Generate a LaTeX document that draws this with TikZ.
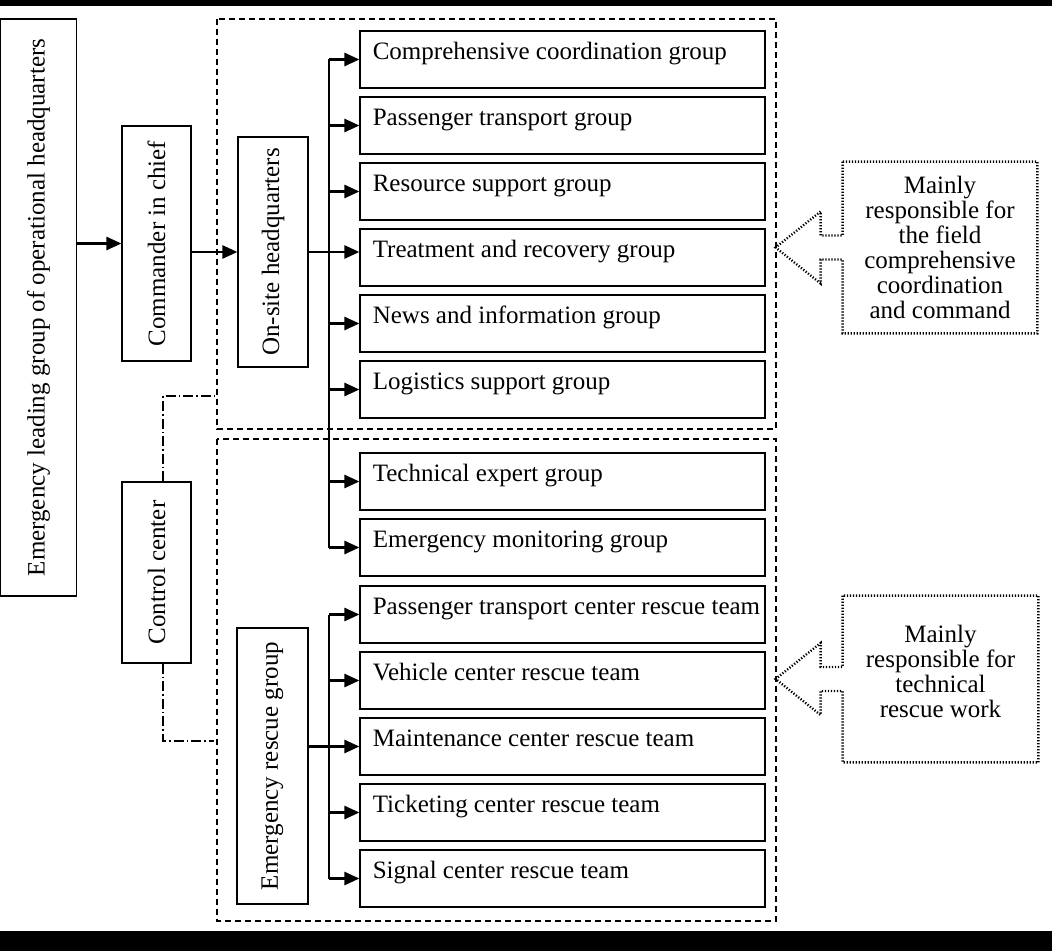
\documentclass[tikz,border=0pt]{standalone}
\usepackage{fontspec}
\setmainfont{Liberation Serif}
\usetikzlibrary{arrows.meta}
\tikzset{>={Triangle[length=7.5pt,width=6.5pt]}}
\tikzset{
	every node/.style={font=\fontsize{12.5}{12.5}\selectfont},
	grp/.style={draw,line width=0.6pt,minimum width=202.5pt,minimum height=28.5pt,inner sep=0pt},
	vbox/.style={draw,line width=0.6pt,rotate=90,inner sep=0pt},
	arr/.style={line width=1.3pt,->},
	trunk/.style={line width=0.6pt},
	frame/.style={line width=0.7pt,dash pattern=on 3pt off 2pt},
	dashdot/.style={line width=0.6pt,dash pattern=on 5pt off 1.5pt on 0.8pt off 1.5pt},
	note/.style={align=center,inner sep=0pt},
	callout/.style={line width=1.2pt,dash pattern=on 0.6pt off 0.9pt}
}

\begin{document}
\begin{tikzpicture}[x=0.5pt,y=-0.5pt]
		\useasboundingbox (0,0) rectangle (1052,951);
		\fill[black] (0,0) rectangle (1052,6);
		\fill[black] (0,931) rectangle (1052,951);
		% frames
		\draw[frame] (217,19) rectangle (776,429);
		\draw[frame] (217,439) rectangle (776,921);
		% left column
		\node[vbox,minimum width=288.5pt,minimum height=38pt] (lead) at (38.5,307.5) {Emergency leading group of operational headquarters};
		\node[vbox,minimum width=117.5pt,minimum height=34.5pt] (cmd) at (156.5,243.5) {Commander in chief};
		\node[vbox,minimum width=90.5pt,minimum height=34.5pt] (ctrl) at (156.5,572.5) {Control center};
		\node[vbox,minimum width=115pt,minimum height=35pt] (site) at (273,252) {On-site headquarters};
		\node[vbox,minimum width=138pt,minimum height=35.5pt] (resc) at (272.5,766) {Emergency rescue group};
		% groups
		\foreach \i/\y/\txt in {1/59.5/Comprehensive coordination group,2/125.5/Passenger transport group,3/191.5/Resource support group,4/257.5/Treatment and recovery group,5/323.5/News and information group,6/389.5/Logistics support group,7/481.5/Technical expert group,8/547.5/Emergency monitoring group,9/614.5/Passenger transport center rescue team,10/680.5/Vehicle center rescue team,11/746.5/Maintenance center rescue team,12/812.5/Ticketing center rescue team,13/878.5/Signal center rescue team}{
			\node[grp] (g\i) at (562.5,\y) {};
			\node[anchor=base west,inner sep=0pt] (t\i) at ([xshift=6.5pt]g\i.west) {\txt};
		}
		% connectors
		\coordinate (ju) at (329,252);
		\coordinate (jl) at (329,746.5);
		\draw[arr] (lead.south |- cmd) -- (cmd.north);
		\draw[arr] (cmd.south |- site) -- (site.north);
		\draw[arr] (site.south) -- (site.south -| g4.west);
		\draw[trunk] (ju |- g1) -- (ju |- g8);
		\foreach \i in {1,2,3,5,6,7,8}
			\draw[arr] (ju |- g\i) -- (g\i.west);
		\draw[arr] (resc.south |- g11) -- (g11.west);
		\draw[trunk] (jl |- g9) -- (jl |- g13);
		\foreach \i in {9,10,12,13}
			\draw[arr] (jl |- g\i) -- (g\i.west);
		% control center links
		\coordinate (cu) at (217,396);
		\coordinate (cl) at (214,741);
		\draw[dashdot] ([xshift=3.25pt]ctrl.east) |- (cu);
		\draw[dashdot] ([xshift=3.25pt]ctrl.west) |- (cl);
		% notes
		\node[note,minimum width=97pt,minimum height=85.5pt] (n1) at (940,247.5) {};
		\node[note] (n1t) at (n1) {Mainly\\responsible for\\the field\\comprehensive\\coordination\\and command};
		\node[note,minimum width=97.5pt,minimum height=83pt] (n2) at (940.5,679) {};
		\node[note] (n2t) at ([yshift=3.75pt]n2.center) {Mainly\\responsible for\\technical\\rescue work};
		\foreach \n in {n1,n2}
			\draw[callout] (\n.north west) -- ([yshift=6pt]\n.west) -- ++(-22,0) -- ++(0,-24) -- ++(-45,36) -- ++(45,36) -- ++(0,-24) -- ++(22,0) -- (\n.south west) -- (\n.south east) -- (\n.north east) -- cycle;
\end{tikzpicture}
\end{document}
